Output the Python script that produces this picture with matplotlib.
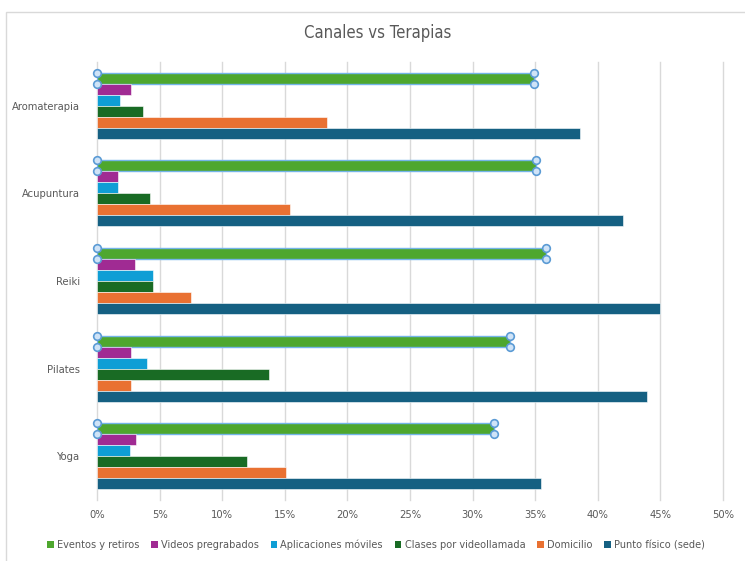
"""Grouped horizontal bar chart: channels vs therapies."""
import matplotlib
matplotlib.use("Agg")
import matplotlib.pyplot as plt
from matplotlib.patches import Patch, Rectangle
from matplotlib.ticker import FuncFormatter
import numpy

plt.rcParams["font.family"] = ["DejaVu Sans"]
plt.rcParams["font.stretch"] = "condensed"

# Data (percent), categories listed bottom to top
terapias = ["Yoga", "Pilates", "Reiki", "Acupuntura", "Aromaterapia"]
canales = ["Eventos y retiros", "Videos pregrabados", "Aplicaciones móviles",
           "Clases por videollamada", "Domicilio", "Punto físico (sede)"]
eventos = [31.7, 33.0, 35.9, 35.1, 34.9]
videos = [3.1, 2.7, 3.0, 1.7, 2.7]
apps = [2.6, 4.0, 4.5, 1.7, 1.8]
videollamada = [12.0, 13.7, 4.5, 4.2, 3.7]
domicilio = [15.1, 2.7, 7.5, 15.4, 18.4]
punto_fisico = [35.5, 43.9, 45.0, 42.0, 38.6]
series = [eventos, videos, apps, videollamada, domicilio, punto_fisico]
colores = ["#4EA72E", "#A02B93", "#0F9ED5", "#196B24", "#E97132", "#156082"]

text_grey = "#595959"
grid_grey = "#D9D9D9"

fig = plt.figure(figsize=(7.45, 5.61), dpi=100)
# outer chart frame (cropped on the right and bottom like the reference)
fig.patches.append(Rectangle((6 / 745, -0.05), 1.2, 1 - 12 / 561 + 0.05,
                             transform=fig.transFigure, fill=False,
                             edgecolor="#D9D9D9", linewidth=1))
ax = fig.add_axes([97 / 745, 1 - 500 / 561, (723 - 97) / 745, (500 - 62) / 561])

y = numpy.arange(len(terapias))
h = 66 / 87.6 / len(series)
for i, (valores, color) in enumerate(zip(series, colores)):
    offset = (2.5 - i) * h
    if i == 0:
        # selected series: outlined with handles at the corners
        ax.barh(y + offset, valores, height=h, color=color,
                edgecolor="#74B4E8", linewidth=1.0, zorder=3)
        for yy, v in zip(y + offset, valores):
            for ey in (yy - h / 2, yy + h / 2):
                ax.plot([0, v], [ey, ey], linestyle="none", marker="o",
                        markersize=5.5, markerfacecolor="#CFE3F7",
                        markeredgecolor="#5B9BD5", markeredgewidth=1.2,
                        zorder=5, clip_on=False)
    else:
        ax.barh(y + offset, valores, height=h, color=color,
                edgecolor="white", linewidth=0.4, zorder=3)

ax.set_xlim(0, 50)
ax.set_ylim(-0.5, len(terapias) - 0.5)
ax.set_xticks(numpy.arange(0, 51, 5))
ax.xaxis.set_major_formatter(FuncFormatter(lambda v, _: f"{v:.0f}%"))
ax.set_yticks(y, labels=terapias)
ax.grid(axis="x", color=grid_grey, linewidth=1, zorder=0)
for line in ax.get_xgridlines():
    line.set_clip_on(False)
for spine in ax.spines.values():
    spine.set_visible(False)
ax.tick_params(axis="both", length=0, colors=text_grey, labelsize=8)
ax.tick_params(axis="x", pad=7)
ax.tick_params(axis="y", pad=12)

fig.text(378 / 745, 1 - 33 / 561, "Canales vs Terapias",
         ha="center", va="center", fontsize=12, color=text_grey)

handles = [Patch(facecolor=c, edgecolor="none") for c in colores]
leg = fig.legend(handles=handles, labels=canales, ncols=len(canales),
                 loc="center", bbox_to_anchor=(376 / 745, 1 - 545 / 561),
                 frameon=False, fontsize=7.8, handlelength=0.6, handleheight=0.6,
                 handletextpad=0.3, columnspacing=1.1, labelcolor=text_grey)

fig.savefig("out.png", dpi=100)
